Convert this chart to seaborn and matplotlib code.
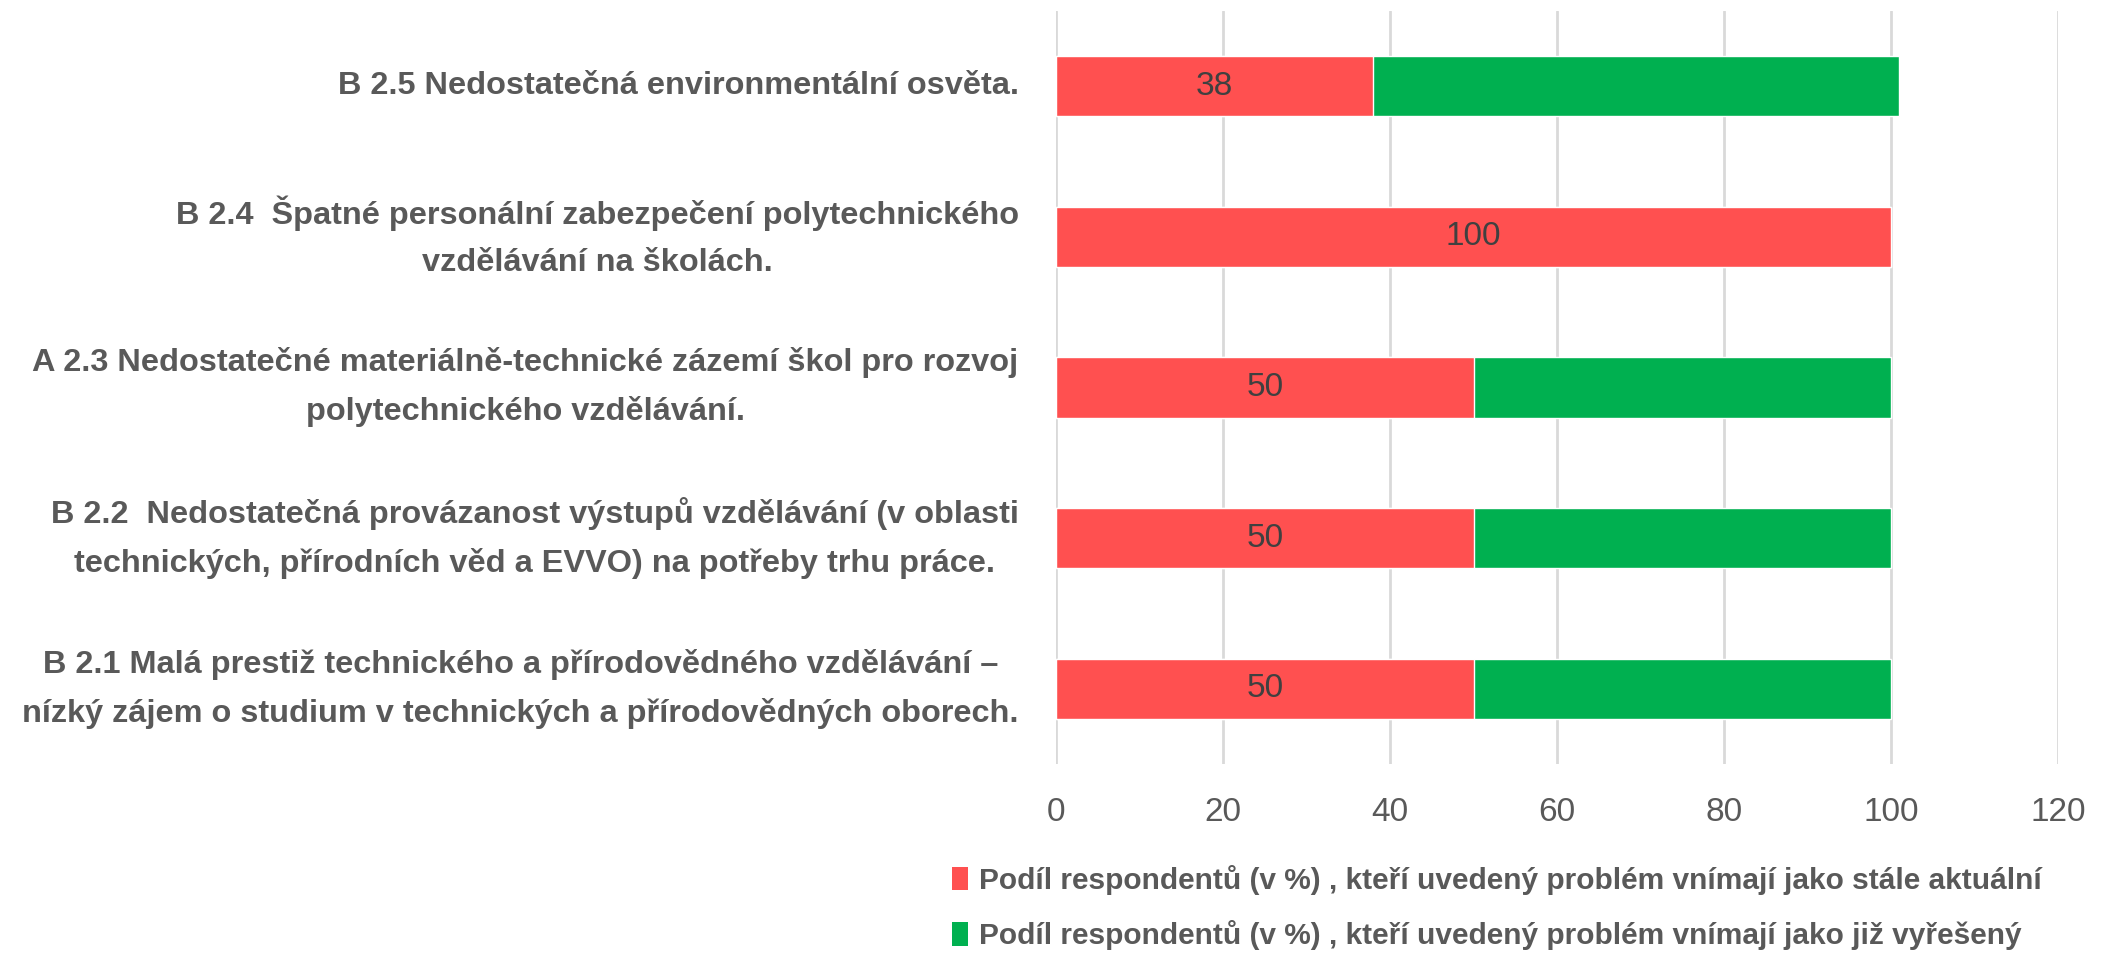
import matplotlib
matplotlib.use("Agg")
import matplotlib.pyplot as plt
from matplotlib.patches import Patch
import seaborn as sns
import pandas as pd

# data (top to bottom as shown)
labels = [
    "B 2.5 Nedostatečná environmentální osvěta.",
    "B 2.4  Špatné personální zabezpečení polytechnického\nvzdělávání na školách.",
    "A 2.3 Nedostatečné materiálně-technické zázemí škol pro rozvoj\npolytechnického vzdělávání.",
    "B 2.2  Nedostatečná provázanost výstupů vzdělávání (v oblasti\ntechnických, přírodních věd a EVVO) na potřeby trhu práce.",
    "B 2.1 Malá prestiž technického a přírodovědného vzdělávání –\nnízký zájem o studium v technických a přírodovědných oborech.",
]
current = [38, 100, 50, 50, 50]
solved = [63, 0, 50, 50, 50]
series_names = [
    "Podíl respondentů (v %) , kteří uvedený problém vnímají jako stále aktuální",
    "Podíl respondentů (v %) , kteří uvedený problém vnímají jako již vyřešený",
]
x_ticks = [0, 20, 40, 60, 80, 100, 120]

RED = "#FF5050"
GREEN = "#00B050"
GRAY = "#595959"

df = pd.DataFrame({"label": labels, "current": current, "solved": solved})
df["total"] = df["current"] + df["solved"]

sns.set_style("white")
plt.rcParams["font.family"] = ["Liberation Sans", "DejaVu Sans"]

fig = plt.figure(figsize=(21.02, 9.55), dpi=100)
ax = fig.add_axes([0.5024, 0.2, 0.4767, 0.7885])

# stacked: draw totals in green, then the red part on top
sns.barplot(data=df, x="total", y="label", orient="h", color=GREEN,
            width=0.4, saturation=1, ax=ax, zorder=2)
sns.barplot(data=df, x="current", y="label", orient="h", color=RED,
            width=0.4, saturation=1, ax=ax, zorder=3)

red_bars = ax.containers[1]
ax.bar_label(red_bars, labels=[str(v) for v in current], label_type="center",
             fontsize=24, color="#404040")

ax.set_xlim(0, 120)
ax.set_ylim(4.5, -0.5)
ax.set_xticks(x_ticks)
ax.set_xticklabels([str(t) for t in x_ticks], fontsize=24, color=GRAY)
ax.tick_params(axis="x", length=0, pad=24)
ax.tick_params(axis="y", length=0, pad=27)
ax.set_yticklabels(labels, fontsize=23.4, fontweight="bold", color=GRAY,
                   multialignment="center", linespacing=1.75, va="center")
ax.set_xlabel("")
ax.set_ylabel("")
ax.grid(axis="x", color="#d9d9d9", linewidth=2, zorder=0)
ax.set_axisbelow(True)
for s in ax.spines.values():
    s.set_visible(False)

handles = [Patch(facecolor=RED, edgecolor="none"), Patch(facecolor=GREEN, edgecolor="none")]
leg = fig.legend(handles, series_names, loc="upper left",
                 bbox_to_anchor=(0.440, 1 - 838 / 955), frameon=False,
                 handlelength=0.55, handleheight=0.85, handletextpad=0.35,
                 labelspacing=0.85, prop={"size": 21.5, "weight": "bold"})
for t in leg.get_texts():
    t.set_color(GRAY)

fig.savefig("out.png", dpi=100, facecolor="white")
